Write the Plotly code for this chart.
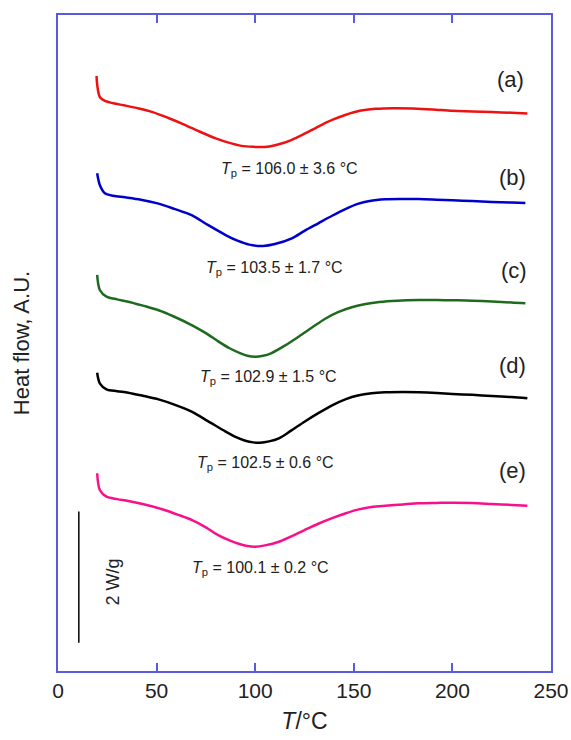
import plotly.graph_objects as go

# Temperature (°C) and heat flow (W/g, curves vertically offset)
T_a = [19.55, 19.9, 21.2, 23.8, 28, 34, 41, 48, 56, 64, 72, 80, 87, 93, 99, 106, 112, 118, 125, 132, 139, 146, 153, 161, 170, 180, 190, 200, 210, 220, 230, 238]
H_a = [9.07, 8.93, 8.75, 8.69, 8.655, 8.62, 8.575, 8.52, 8.43, 8.33, 8.22, 8.12, 8.05, 8.005, 7.99, 7.99, 8.03, 8.09, 8.19, 8.30, 8.40, 8.48, 8.54, 8.57, 8.58, 8.575, 8.56, 8.54, 8.53, 8.52, 8.51, 8.50]

T_b = [19.86, 21.2, 23.8, 28, 34, 42, 51, 59, 68, 76, 85, 91, 97, 104, 110, 118.6, 125, 132, 139, 146, 152, 158, 166, 175, 183, 192, 200, 210, 220, 230, 237]
H_b = [7.587, 7.409, 7.282, 7.245, 7.221, 7.185, 7.125, 7.045, 6.945, 6.80, 6.646, 6.56, 6.50, 6.48, 6.51, 6.596, 6.71, 6.825, 6.94, 7.045, 7.12, 7.165, 7.19, 7.195, 7.195, 7.185, 7.175, 7.165, 7.15, 7.14, 7.134]

T_c = [19.86, 21.2, 24.6, 30, 35.6, 43, 51, 59, 68, 75, 81, 87, 92, 96, 100, 104, 108, 115, 122, 129, 135.5, 142, 149, 156, 163, 172, 183, 192, 200, 210, 220, 230, 237]
H_c = [6.037, 5.808, 5.706, 5.665, 5.630, 5.57, 5.50, 5.40, 5.27, 5.15, 5.03, 4.92, 4.85, 4.805, 4.791, 4.805, 4.843, 4.96, 5.096, 5.24, 5.37, 5.47, 5.545, 5.595, 5.625, 5.645, 5.655, 5.655, 5.651, 5.645, 5.632, 5.618, 5.605]

T_d = [19.86, 21.2, 24.6, 30, 35.6, 43, 51, 59, 68, 76, 85, 90, 95, 99, 102.5, 107, 112, 118, 125, 132, 139, 146, 152, 159, 166, 175, 183, 192, 200, 210, 220, 230, 238]
H_d = [4.547, 4.386, 4.294, 4.265, 4.242, 4.195, 4.14, 4.06, 3.95, 3.81, 3.65, 3.57, 3.511, 3.485, 3.48, 3.50, 3.547, 3.66, 3.80, 3.93, 4.05, 4.145, 4.20, 4.235, 4.248, 4.252, 4.248, 4.237, 4.223, 4.21, 4.192, 4.175, 4.157]

T_e = [19.86, 21.2, 24.6, 30, 35.6, 45, 54, 61, 68, 75, 81, 87, 92, 96, 100, 105, 112, 118, 125, 132, 139, 146, 152, 159, 166, 175, 183, 192, 200, 210, 220, 230, 238]
H_e = [3.014, 2.759, 2.657, 2.62, 2.591, 2.53, 2.454, 2.38, 2.30, 2.19, 2.075, 1.99, 1.935, 1.905, 1.895, 1.915, 1.97, 2.05, 2.149, 2.245, 2.33, 2.405, 2.46, 2.50, 2.520, 2.54, 2.556, 2.562, 2.566, 2.56, 2.546, 2.532, 2.520]

curve_labels = ["(a)", "(b)", "(c)", "(d)", "(e)"]
tp_labels = ["106.0 ± 3.6 °C", "103.5 ± 1.7 °C", "102.9 ± 1.5 °C", "102.5 ± 0.6 °C", "100.1 ± 0.2 °C"]
x_ticks = [0, 50, 100, 150, 200, 250]

# label positions (data coords)
letter_x = [229.7, 230.5, 231.0, 230.5, 230.5]
letter_y = [9.02, 7.53, 6.10, 4.65, 3.06]
tp_x = [117.5, 109.6, 106.6, 105.3, 102.5]
tp_y = [7.65, 6.13, 4.48, 3.17, 1.57]

# scale bar: 2 W/g
bar_x = [10.56, 10.56]
bar_y = [0.43, 2.43]

colors = ["#ee1111", "#0000cc", "#1e6a1e", "#000000", "#f7108a"]
series = [(T_a, H_a), (T_b, H_b), (T_c, H_c), (T_d, H_d), (T_e, H_e)]

fig = go.Figure()
for (t, h), c in zip(series, colors):
    fig.add_trace(go.Scatter(x=t, y=h, mode="lines",
                             line=dict(color=c, width=2.5, shape="spline", smoothing=0.85),
                             showlegend=False, hoverinfo="skip"))

fig.add_trace(go.Scatter(x=bar_x, y=bar_y, mode="lines",
                         line=dict(color="black", width=1.5), showlegend=False, hoverinfo="skip"))

font_main = "Liberation Sans, Arial, sans-serif"
for lab, x, y in zip(curve_labels, letter_x, letter_y):
    fig.add_annotation(x=x, y=y, text=lab, showarrow=False, font=dict(size=22, color="#222"),
                       xanchor="center", yanchor="middle")
for lab, x, y in zip(tp_labels, tp_x, tp_y):
    fig.add_annotation(x=x, y=y, text="<i>T</i><sub>p</sub> = " + lab, showarrow=False,
                       font=dict(size=16, color="#222"), xanchor="center", yanchor="middle")

fig.add_annotation(x=27.8, y=1.36, text="2 W/g", textangle=-90, showarrow=False,
                   font=dict(size=18, color="#222"), xanchor="center", yanchor="middle")

axis_col = "#5a5ae0"
fig.update_layout(
    width=571, height=740,
    margin=dict(l=58, r=20, t=15, b=69, autoexpand=False),
    paper_bgcolor="white", plot_bgcolor="white",
    font=dict(family=font_main, color="#222"),
    xaxis=dict(range=[0, 250], tickvals=x_ticks, ticks="inside", ticklen=8, tickwidth=2,
               tickcolor=axis_col, showline=True, linecolor=axis_col, linewidth=2, mirror="ticks",
               showgrid=False, zeroline=False, tickfont=dict(size=21, color="#222"), automargin=False,
               title=dict(text="<i>T</i>/°C", font=dict(size=23, color="#222"), standoff=12)),
    yaxis=dict(range=[0, 10], showticklabels=False, ticks="", showline=True, linecolor=axis_col,
               linewidth=2, mirror=True, showgrid=False, zeroline=False, automargin=False,
               title=dict(text="Heat flow, A.U.", font=dict(size=22, color="#222"), standoff=20)),
)

fig.write_html("out.html")
